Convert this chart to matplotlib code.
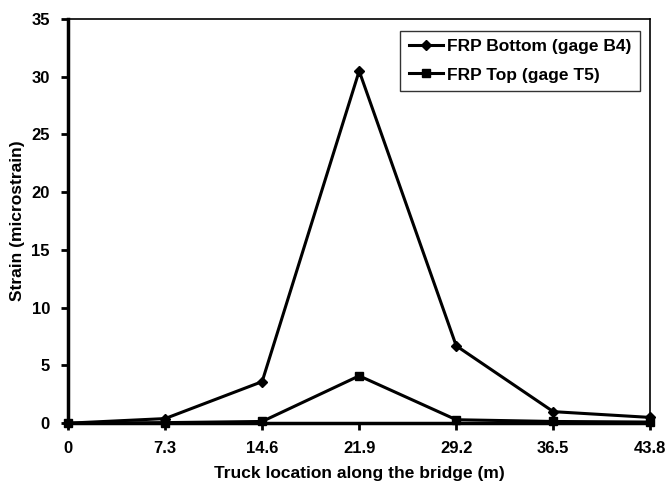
import matplotlib
matplotlib.use("Agg")
import matplotlib.pyplot as plt

plt.rcParams['font.family'] = ['Liberation Sans', 'DejaVu Sans']
plt.rcParams['font.weight'] = 'bold'

# truck positions along the bridge (m)
positions = [0, 7.3, 14.6, 21.9, 29.2, 36.5, 43.8]
x_labels = ['0', '7.3', '14.6', '21.9', '29.2', '36.5', '43.8']

# strain readings (microstrain)
frp_bottom = [0.0, 0.4, 3.6, 30.5, 6.7, 1.0, 0.5]
frp_top = [0.0, 0.05, 0.15, 4.1, 0.3, 0.15, 0.1]

fig = plt.figure(figsize=(6.67, 4.87), dpi=100)
ax = fig.add_axes([0.102, 0.131, 0.873, 0.83])

ax.plot(positions, frp_bottom, color='black', lw=2.2, marker='D', ms=5,
        label='FRP Bottom (gage B4)', clip_on=False, zorder=3)
ax.plot(positions, frp_top, color='black', lw=2.2, marker='s', ms=6,
        label='FRP Top (gage T5)', clip_on=False, zorder=3)

ax.set_xlim(0, 43.8)
ax.set_ylim(0, 35)
ax.set_xticks(positions)
ax.set_xticklabels(x_labels)
ax.set_yticks(range(0, 36, 5))
ax.tick_params(axis='both', direction='out', width=2, length=5,
               labelsize=12, pad=8, colors='black')
for lab in ax.get_xticklabels() + ax.get_yticklabels():
    lab.set_fontweight('bold')

ax.spines['left'].set_linewidth(2.5)
ax.spines['bottom'].set_linewidth(2.5)
ax.spines['top'].set_linewidth(1.2)
ax.spines['right'].set_linewidth(1.2)

ax.set_xlabel('Truck location along the bridge (m)', fontsize=12.5,
              fontweight='bold', labelpad=7)
ax.set_ylabel('Strain (microstrain)', fontsize=12.5, fontweight='bold',
              labelpad=5)

leg = ax.legend(loc='upper right', bbox_to_anchor=(0.988, 0.98),
                fontsize=12.5, frameon=True, fancybox=False,
                edgecolor='black', handlelength=2.0, handletextpad=0.2,
                borderpad=0.5, labelspacing=0.75, borderaxespad=0.2)
leg.get_frame().set_linewidth(1.0)
for t in leg.get_texts():
    t.set_fontweight('bold')

fig.savefig('out.png', dpi=100)
